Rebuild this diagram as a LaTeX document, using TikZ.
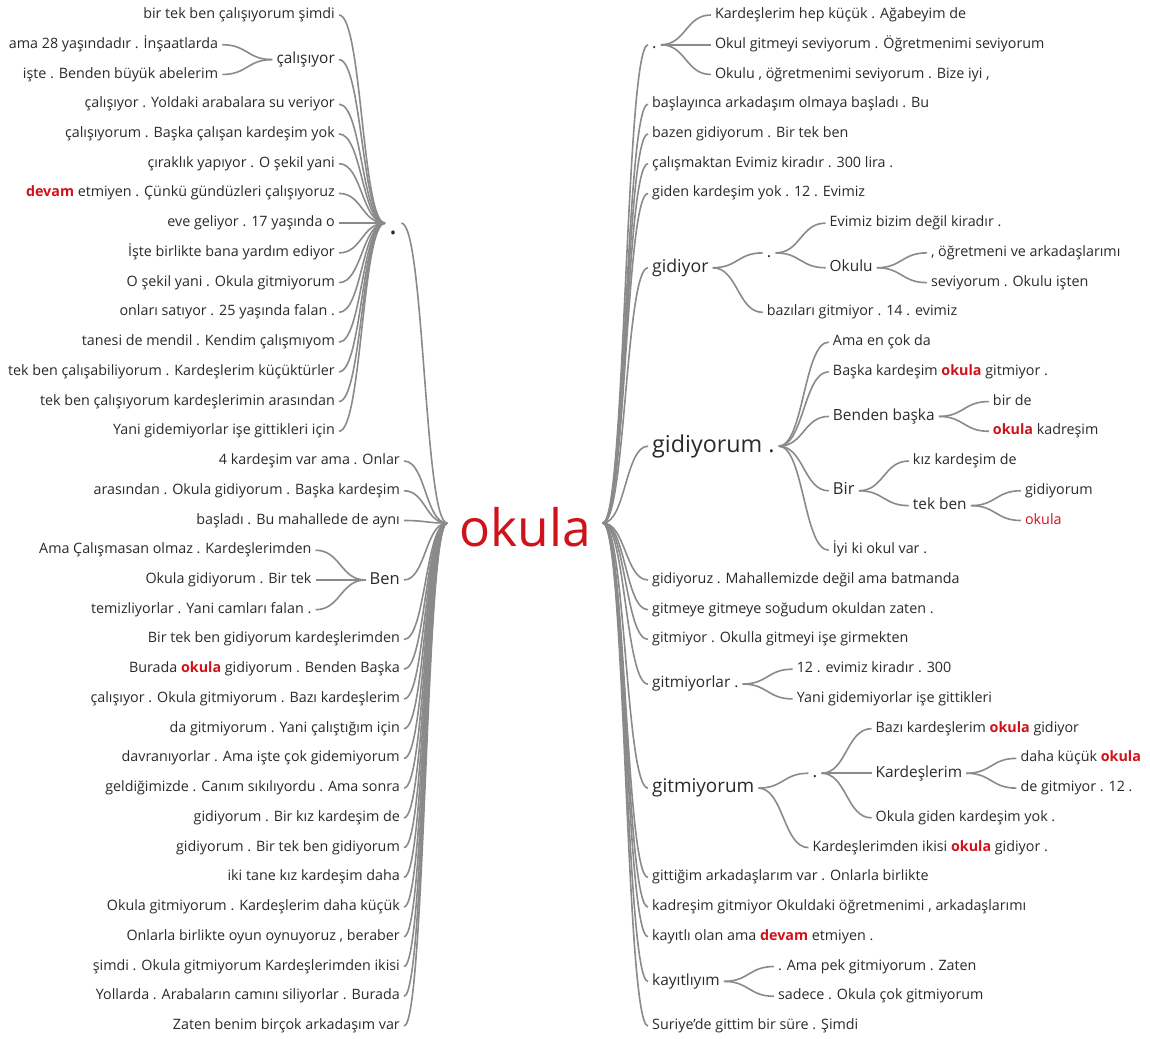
\documentclass[tikz,border=0pt]{standalone}
\usepackage{fontspec}
\setmainfont{Open Sans}
\usetikzlibrary{calc}
\definecolor{txt}{HTML}{2A2A2A}
\definecolor{lin}{HTML}{8A8A8A}
\definecolor{red1}{HTML}{D0121B}
\newcommand\ok{\textcolor{red1}{\textbf{okula}}}
\newcommand\dv{\textcolor{red1}{\textbf{devam}}}
\newcommand\R[1]{15+29.735*#1}
% child placed to the right / left of its parent, #4 = row offset
\newcommand\rch[5][]{\node[R,#1] (#2) at ($(#3.east)+(50,{29.735*(#4)})$) {#5};}
\newcommand\lch[5][]{\node[L,#1] (#2) at ($(#3.west)+(-50,{29.735*(#4)})$) {#5};}
\tikzset{
  w/.style={font=\fontsize{14.3}{16}\selectfont, text=txt, inner xsep=4pt, inner ysep=0pt, text height=10.7pt, text depth=3.6pt},
  sB/.style={font=\fontsize{15.4}{17}\selectfont, text height=11.5pt, text depth=3.9pt},
  sC/.style={font=\fontsize{16.5}{18}\selectfont, text height=12.4pt, text depth=4.1pt},
  sD/.style={font=\fontsize{17.7}{19}\selectfont, text height=13.3pt, text depth=4.4pt},
  sE/.style={font=\fontsize{18.9}{20}\selectfont, text height=14.2pt, text depth=4.7pt},
  sH/.style={font=\fontsize{23.3}{25}\selectfont, text height=17.5pt, text depth=5.8pt},
  L/.style={w, anchor=east},
  R/.style={w, anchor=west},
  wt/.style={to path={let \p1=(\tikztostart), \p2=(\tikztotarget) in
     .. controls ({0.5*\x1+0.5*\x2},\y1) and ({0.5*\x1+0.5*\x2},\y2) .. (\tikztotarget)}},
  con/.style={draw=lin, line width=1.6pt, wt}
}
\begin{document}
\begin{tikzpicture}[x=1pt, y=-1pt]
\fill[white] (0,0) rectangle (1150,1038);
\useasboundingbox (0,0) rectangle (1150,1038);

% centre
\node[font=\fontsize{51.5}{53}\selectfont, text=red1, inner xsep=12pt, inner ysep=0pt, text height=46pt, text depth=0pt] (root) at (525,523) {okula};

% ---------------- left: "." group
\node[w, anchor=west, font=\fontsize{30}{30}\selectfont, text height=22pt, text depth=0pt] (ldot) at (385,\R{7}) {.};
\node[L] (l0) at (339,\R{0}) {bir tek ben çalışıyorum şimdi};
\node[L,sB] (lcal) at (339,\R{1.5}) {çalışıyor};
\lch{lcal1}{lcal}{-0.5}{ama 28 yaşındadır . İnşaatlarda}
\lch{lcal2}{lcal}{0.5}{işte . Benden büyük abelerim}
\node[L] (l3) at (339,\R{3}) {çalışıyor . Yoldaki arabalara su veriyor};
\node[L] (l4) at (339,\R{4}) {çalışıyorum . Başka çalışan kardeşim yok};
\node[L] (l5) at (339,\R{5}) {çıraklık yapıyor . O şekil yani};
\node[L] (l6) at (339,\R{6}) {\dv{} etmiyen . Çünkü gündüzleri çalışıyoruz};
\node[L] (l7) at (339,\R{7}) {eve geliyor . 17 yaşında o};
\node[L] (l8) at (339,\R{8}) {İşte birlikte bana yardım ediyor};
\node[L] (l9) at (339,\R{9}) {O şekil yani . Okula gitmiyorum};
\node[L] (l10) at (339,\R{10}) {onları satıyor . 25 yaşında falan .};
\node[L] (l11) at (339,\R{11}) {tanesi de mendil . Kendim çalışmıyom};
\node[L] (l12) at (339,\R{12}) {tek ben çalışabiliyorum . Kardeşlerim küçüktürler};
\node[L] (l13) at (339,\R{13}) {tek ben çalışıyorum kardeşlerimin arasından};
\node[L] (l14) at (339,\R{14}) {Yani gidemiyorlar işe gittikleri için};

% ---------------- left: direct children
\node[L] (l15) at (404,\R{15}) {4 kardeşim var ama . Onlar};
\node[L] (l16) at (404,\R{16}) {arasından . Okula gidiyorum . Başka kardeşim};
\node[L] (l17) at (404,\R{17}) {başladı . Bu mahallede de aynı};
\node[L,sC] (lben) at (404,\R{19}) {Ben};
\lch{lb1}{lben}{-1}{Ama Çalışmasan olmaz . Kardeşlerimden}
\lch{lb2}{lben}{0}{Okula gidiyorum . Bir tek}
\lch{lb3}{lben}{1}{temizliyorlar . Yani camları falan .}
\node[L] (l21) at (404,\R{21}) {Bir tek ben gidiyorum kardeşlerimden};
\node[L] (l22) at (404,\R{22}) {Burada \ok{} gidiyorum . Benden Başka};
\node[L] (l23) at (404,\R{23}) {çalışıyor . Okula gitmiyorum . Bazı kardeşlerim};
\node[L] (l24) at (404,\R{24}) {da gitmiyorum . Yani çalıştığım için};
\node[L] (l25) at (404,\R{25}) {davranıyorlar . Ama işte çok gidemiyorum};
\node[L] (l26) at (404,\R{26}) {geldiğimizde . Canım sıkılıyordu . Ama sonra};
\node[L] (l27) at (404,\R{27}) {gidiyorum . Bir kız kardeşim de};
\node[L] (l28) at (404,\R{28}) {gidiyorum . Bir tek ben gidiyorum};
\node[L] (l29) at (404,\R{29}) {iki tane kız kardeşim daha};
\node[L] (l30) at (404,\R{30}) {Okula gitmiyorum . Kardeşlerim daha küçük};
\node[L] (l31) at (404,\R{31}) {Onlarla birlikte oyun oynuyoruz , beraber};
\node[L] (l32) at (404,\R{32}) {şimdi . Okula gitmiyorum Kardeşlerimden ikisi};
\node[L] (l33) at (404,\R{33}) {Yollarda . Arabaların camını siliyorlar . Burada};
\node[L] (l34) at (404,\R{34}) {Zaten benim birçok arkadaşım var};

% ---------------- right
\node[R,sC] (rdot) at (648,\R{1}) {.};
\rch{r0}{rdot}{-1}{Kardeşlerim hep küçük . Ağabeyim de}
\rch{r1}{rdot}{0}{Okul gitmeyi seviyorum . Öğretmenimi seviyorum}
\rch{r2}{rdot}{1}{Okulu , öğretmenimi seviyorum . Bize iyi ,}
\node[R] (r3) at (648,\R{3}) {başlayınca arkadaşım olmaya başladı . Bu};
\node[R] (r4) at (648,\R{4}) {bazen gidiyorum . Bir tek ben};
\node[R] (r5) at (648,\R{5}) {çalışmaktan Evimiz kiradır . 300 lira .};
\node[R] (r6) at (648,\R{6}) {giden kardeşim yok . 12 . Evimiz};

\node[R,sD] (rgy) at (648,\R{8.5}) {gidiyor};
\rch[sC]{rgydot}{rgy}{-0.5}{.}
\rch{rgy2}{rgy}{1.5}{bazıları gitmiyor . 14 . evimiz}
\rch{rgy1}{rgydot}{-1}{Evimiz bizim değil kiradır .}
\rch[sB]{rok}{rgydot}{0.5}{Okulu}
\rch{rok1}{rok}{-0.5}{, öğretmeni ve arkadaşlarımı}
\rch{rok2}{rok}{0.5}{seviyorum . Okulu işten}

\node[R,sH] (rgm) at (648,\R{14.5}) {gidiyorum .};
\rch{rgm1}{rgm}{-3.5}{Ama en çok da}
\rch{rgm2}{rgm}{-2.5}{Başka kardeşim \ok{} gitmiyor .}
\rch[sB]{rbb}{rgm}{-1}{Benden başka}
\rch{rbb1}{rbb}{-0.5}{bir de}
\rch{rbb2}{rbb}{0.5}{\ok{} kadreşim}
\rch[sC]{rbir}{rgm}{1.5}{Bir}
\rch{rbir1}{rbir}{-1}{kız kardeşim de}
\rch[sB]{rtb}{rbir}{0.5}{tek ben}
\rch{rtb1}{rtb}{-0.5}{gidiyorum}
\rch[text=red1]{rtb2}{rtb}{0.5}{okula}
\rch{rgm3}{rgm}{3.5}{İyi ki okul var .}

\node[R] (r19) at (648,\R{19}) {gidiyoruz . Mahallemizde değil ama batmanda};
\node[R] (r20) at (648,\R{20}) {gitmeye gitmeye soğudum okuldan zaten .};
\node[R] (r21) at (648,\R{21}) {gitmiyor . Okulla gitmeyi işe girmekten};

\node[R,sB] (rgl) at (648,\R{22.5}) {gitmiyorlar .};
\rch{rgl1}{rgl}{-0.5}{12 . evimiz kiradır . 300}
\rch{rgl2}{rgl}{0.5}{Yani gidemiyorlar işe gittikleri}

\node[R,sE] (rgt) at (648,\R{26}) {gitmiyorum};
\rch[sD]{rgtdot}{rgt}{-0.5}{.}
\rch{rgt3}{rgt}{2}{Kardeşlerimden ikisi \ok{} gidiyor .}
\rch{rgt1}{rgtdot}{-1.5}{Bazı kardeşlerim \ok{} gidiyor}
\rch[sB]{rkd}{rgtdot}{0}{Kardeşlerim}
\rch{rgt2}{rgtdot}{1.5}{Okula giden kardeşim yok .}
\rch{rkd1}{rkd}{-0.5}{daha küçük \ok}
\rch{rkd2}{rkd}{0.5}{de gitmiyor . 12 .}

\node[R] (r29) at (648,\R{29}) {gittiğim arkadaşlarım var . Onlarla birlikte};
\node[R] (r30) at (648,\R{30}) {kadreşim gitmiyor Okuldaki öğretmenimi , arkadaşlarımı};
\node[R] (r31) at (648,\R{31}) {kayıtlı olan ama \dv{} etmiyen .};
\node[R,sB] (rky) at (648,\R{32.5}) {kayıtlıyım};
\rch{rky1}{rky}{-0.5}{. Ama pek gitmiyorum . Zaten}
\rch{rky2}{rky}{0.5}{sadece . Okula çok gitmiyorum}
\node[R] (r34) at (648,\R{34}) {Suriye'de gittim bir süre . Şimdi};

% ---------------- connectors left
\foreach \nm in {l0,lcal,l3,l4,l5,l6,l7,l8,l9,l10,l11,l12,l13,l14}
  \draw[con] (\nm.east) to (ldot.west);
\foreach \nm in {lcal1,lcal2} \draw[con] (\nm.east) to (lcal.west);
\foreach \nm in {lb1,lb2,lb3} \draw[con] (\nm.east) to (lben.west);
\draw[con] (ldot.east) to (root.west);
\foreach \nm in {l15,l16,l17,lben,l21,l22,l23,l24,l25,l26,l27,l28,l29,l30,l31,l32,l33,l34}
  \draw[con] (\nm.east) to (root.west);

% ---------------- connectors right
\foreach \nm in {rdot,r3,r4,r5,r6,rgy,rgm,r19,r20,r21,rgl,rgt,r29,r30,r31,rky,r34}
  \draw[con] (root.east) to (\nm.west);
\foreach \nm in {r0,r1,r2} \draw[con] (rdot.east) to (\nm.west);
\foreach \nm in {rgydot,rgy2} \draw[con] (rgy.east) to (\nm.west);
\foreach \nm in {rgy1,rok} \draw[con] (rgydot.east) to (\nm.west);
\foreach \nm in {rok1,rok2} \draw[con] (rok.east) to (\nm.west);
\foreach \nm in {rgm1,rgm2,rbb,rbir,rgm3} \draw[con] (rgm.east) to (\nm.west);
\foreach \nm in {rbb1,rbb2} \draw[con] (rbb.east) to (\nm.west);
\foreach \nm in {rbir1,rtb} \draw[con] (rbir.east) to (\nm.west);
\foreach \nm in {rtb1,rtb2} \draw[con] (rtb.east) to (\nm.west);
\foreach \nm in {rgl1,rgl2} \draw[con] (rgl.east) to (\nm.west);
\foreach \nm in {rgtdot,rgt3} \draw[con] (rgt.east) to (\nm.west);
\foreach \nm in {rgt1,rkd,rgt2} \draw[con] (rgtdot.east) to (\nm.west);
\foreach \nm in {rkd1,rkd2} \draw[con] (rkd.east) to (\nm.west);
\foreach \nm in {rky1,rky2} \draw[con] (rky.east) to (\nm.west);
\end{tikzpicture}
\end{document}
